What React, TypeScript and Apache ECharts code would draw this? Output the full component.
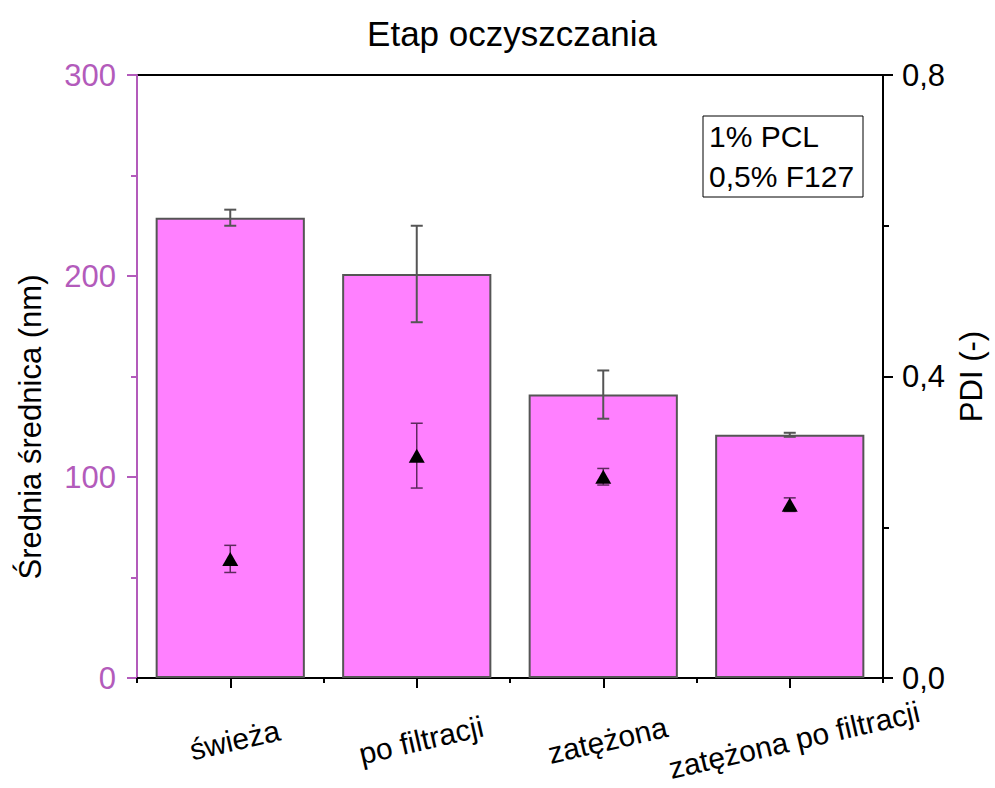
import React, { useEffect, useRef } from 'react';
import * as echarts from 'echarts';

const categories = ['świeża', 'po filtracji', 'zatężona', 'zatężona po filtracji'];
const diameter = [229, 201, 141, 121];
const diameterErr = [4, 24, 12, 1];
const pdi = [0.158, 0.295, 0.267, 0.23];
const pdiErr = [0.018, 0.043, 0.011, 0.009];
const titleText = 'Etap oczyszczania';
const leftName = 'Średnia średnica (nm)';
const rightName = 'PDI (-)';
const noteLines = ['1% PCL', '0,5% F127'];

const FONT = 'Liberation Sans';
const PURPLE = '#b35bbb';

function errRender(color: string, width: number, cap: number) {
  return (params: any, api: any) => {
    const x = api.value(0);
    const lo = api.coord([x, api.value(1)]);
    const hi = api.coord([x, api.value(2)]);
    const st = { stroke: color, lineWidth: width, fill: 'none' };
    return {
      type: 'group',
      children: [
        { type: 'line', shape: { x1: lo[0], y1: lo[1], x2: hi[0], y2: hi[1] }, style: st },
        { type: 'line', shape: { x1: lo[0] - cap, y1: lo[1], x2: lo[0] + cap, y2: lo[1] }, style: st },
        { type: 'line', shape: { x1: hi[0] - cap, y1: hi[1], x2: hi[0] + cap, y2: hi[1] }, style: st },
      ],
    };
  };
}

export default function App() {
  const ref = useRef<HTMLDivElement>(null);
  useEffect(() => {
    if (!ref.current) return;
    const chart = echarts.init(ref.current, undefined, { renderer: 'svg' });
    const diaErrData = diameter.map((v, i) => [i, v - diameterErr[i], v + diameterErr[i]]);
    const pdiErrData = pdi.map((v, i) => [i, v - pdiErr[i], v + pdiErr[i]]);
    chart.setOption({
      animation: false,
      backgroundColor: '#ffffff',
      textStyle: { fontFamily: FONT },
      title: {
        text: titleText,
        left: 507,
        top: 11,
        textAlign: 'center',
        textStyle: { fontFamily: FONT, fontSize: 35, fontWeight: 'normal', color: '#000' },
      },
      grid: {
        left: 137,
        right: 112,
        top: 75,
        bottom: 110,
        show: true,
        borderColor: '#000',
        borderWidth: 2,
        backgroundColor: 'transparent',
      },
      xAxis: [
        {
          type: 'category',
          data: categories,
          position: 'bottom',
          axisLine: { show: true, lineStyle: { color: '#000', width: 2 } },
          axisTick: { show: true, alignWithLabel: true, length: 10, lineStyle: { color: '#000', width: 2 } },
          axisLabel: {
            interval: 0,
            rotate: 13,
            align: 'center',
            verticalAlign: 'middle',
            margin: 63,
            fontSize: 30,
            color: '#000',
            fontFamily: FONT,
            padding: [0, 0, 0, 9],
          },
          splitLine: { show: false },
        },
        {
          type: 'category',
          data: categories,
          position: 'bottom',
          axisLine: { show: false },
          axisTick: { show: true, alignWithLabel: false, length: 5, lineStyle: { color: '#000', width: 2 } },
          axisLabel: { show: false },
          splitLine: { show: false },
        },
      ],
      yAxis: [
        {
          type: 'value',
          min: 0,
          max: 300,
          interval: 100,
          position: 'left',
          axisLine: { show: true, lineStyle: { color: PURPLE, width: 2 } },
          axisTick: { show: true, length: 10, lineStyle: { color: PURPLE, width: 2 } },
          minorTick: { show: true, splitNumber: 2, length: 6, lineStyle: { color: PURPLE, width: 2 } },
          axisLabel: { fontSize: 31, color: PURPLE, margin: 21, fontFamily: FONT },
          splitLine: { show: false },
        },
        {
          type: 'value',
          min: 0,
          max: 0.8,
          interval: 0.4,
          position: 'right',
          name: rightName,
          nameLocation: 'middle',
          nameGap: 72,
          nameRotate: 90,
          nameTextStyle: { fontSize: 31, color: '#000', fontFamily: FONT },
          axisLine: { show: true, lineStyle: { color: '#000', width: 2 } },
          axisTick: { show: true, length: 10, lineStyle: { color: '#000', width: 2 } },
          minorTick: { show: true, splitNumber: 2, length: 6, lineStyle: { color: '#000', width: 2 } },
          axisLabel: {
            fontSize: 31,
            color: '#000',
            margin: 19,
            fontFamily: FONT,
            formatter: (v: number) => v.toFixed(1).replace('.', ','),
          },
          splitLine: { show: false },
        },
      ],
      series: [
        {
          type: 'bar',
          xAxisIndex: 0,
          yAxisIndex: 0,
          data: diameter,
          barWidth: '80%',
          itemStyle: { color: '#ff80ff', borderColor: '#555555', borderWidth: 2 },
          z: 2,
        },
        {
          type: 'custom',
          xAxisIndex: 0,
          yAxisIndex: 0,
          data: diaErrData,
          encode: { x: 0, y: [1, 2] },
          renderItem: errRender('#555555', 2, 6),
          z: 3,
        },
        {
          type: 'custom',
          xAxisIndex: 0,
          yAxisIndex: 1,
          data: pdiErrData,
          encode: { x: 0, y: [1, 2] },
          renderItem: errRender('#5e2a5e', 1.5, 6),
          z: 4,
        },
        {
          type: 'scatter',
          xAxisIndex: 0,
          yAxisIndex: 1,
          data: pdi,
          symbol: 'triangle',
          symbolSize: [16, 14],
          itemStyle: { color: '#000', opacity: 1 },
          z: 5,
        },
      ],
      graphic: [
        {
          type: 'text',
          x: 30,
          y: 427,
          rotation: Math.PI / 2,
          style: {
            text: leftName,
            font: `31px "${FONT}"`,
            fill: '#000',
            align: 'center',
            verticalAlign: 'middle',
          },
          z: 11,
        },
        {
          type: 'rect',
          shape: { x: 703, y: 116, width: 160, height: 81 },
          style: { fill: '#fff', stroke: '#000', lineWidth: 1 },
          z: 10,
        },
        {
          type: 'text',
          x: 709,
          y: 136,
          style: { text: noteLines[0], font: `30px "${FONT}"`, fill: '#000', verticalAlign: 'middle' },
          z: 11,
        },
        {
          type: 'text',
          x: 709,
          y: 176,
          style: { text: noteLines[1], font: `30px "${FONT}"`, fill: '#000', verticalAlign: 'middle' },
          z: 11,
        },
      ],
    });
    return () => chart.dispose();
  }, []);
  return <div ref={ref} style={{ position: 'fixed', left: 0, top: 0, width: 995, height: 788 }} />;
}
